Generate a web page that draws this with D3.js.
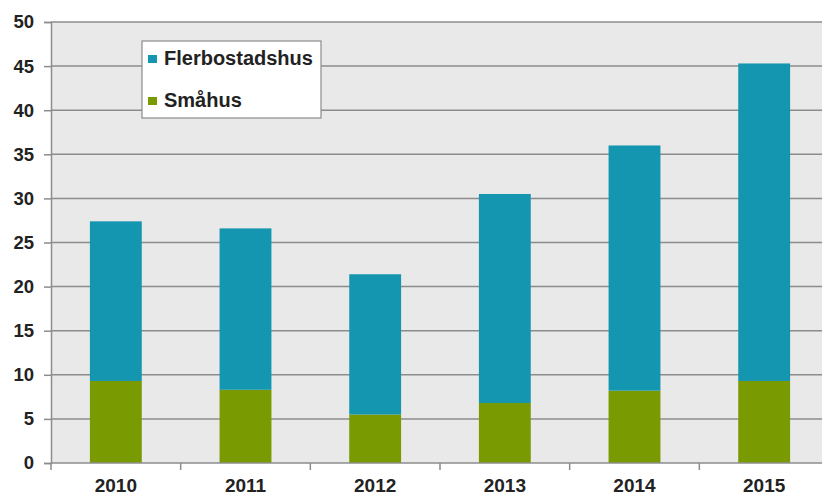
<!DOCTYPE html>
<html>
<head>
<meta charset="utf-8">
<script src="https://cdn.jsdelivr.net/npm/d3@7"></script>
<style>
  html, body { margin: 0; padding: 0; background: #fff; }
  svg { display: block; }
  text { font-family: "Liberation Sans", Arial, sans-serif; font-weight: bold; fill: #222; }
</style>
</head>
<body>
<svg id="chart" width="822" height="495"></svg>
<script>
// Completed dwellings per year, split by building type
const years = ["2010", "2011", "2012", "2013", "2014", "2015"];
const smahus = [9.3, 8.3, 5.5, 6.8, 8.2, 9.3];
const flerbostadshus = [18.1, 18.3, 15.9, 23.7, 27.8, 36.0];
const seriesNames = ["Flerbostadshus", "Småhus"];
const yTicks = [0, 5, 10, 15, 20, 25, 30, 35, 40, 45, 50];

const colors = { "Småhus": "#7a9a01", "Flerbostadshus": "#1596b0" };

const svg = d3.select("#chart");
const plotLeft = 51, plotRight = 829, plotTop = 22, plotBottom = 463;

const x = d3.scaleBand().domain(years).range([plotLeft, plotRight]).paddingInner(0.6).paddingOuter(0.3);
const y = d3.scaleLinear().domain([0, 50]).range([plotBottom, plotTop]);

// plot background
svg.append("rect")
  .attr("x", plotLeft).attr("y", plotTop)
  .attr("width", plotRight - plotLeft).attr("height", plotBottom - plotTop)
  .attr("fill", "#e9e9e9");

// horizontal grid
svg.append("g").selectAll("line").data(yTicks.filter(d => d > 0)).join("line")
  .attr("x1", plotLeft).attr("x2", plotRight)
  .attr("y1", d => y(d)).attr("y2", d => y(d))
  .attr("stroke", "#8c8c8c").attr("stroke-width", 1.5);

// stacked bars
const rows = years.map((yr, i) => ({ year: yr, "Småhus": smahus[i], "Flerbostadshus": flerbostadshus[i] }));
const stack = d3.stack().keys(["Småhus", "Flerbostadshus"])(rows);
svg.append("g").selectAll("g").data(stack).join("g")
  .attr("fill", s => colors[s.key])
  .selectAll("rect").data(s => s).join("rect")
  .attr("x", d => x(d.data.year))
  .attr("width", x.bandwidth())
  .attr("y", d => y(d[1]))
  .attr("height", d => y(d[0]) - y(d[1]));

// y axis
const yAxis = svg.append("g").attr("transform", `translate(${plotLeft},0)`)
  .call(d3.axisLeft(y).tickValues(yTicks).tickSize(7).tickPadding(10));
yAxis.select(".domain").attr("stroke", "#8c8c8c").attr("stroke-width", 1.5);
yAxis.selectAll(".tick line").attr("stroke", "#8c8c8c").attr("stroke-width", 1.5);
yAxis.selectAll(".tick text").attr("font-size", 18.5).attr("fill", "#222")
  .attr("font-family", "Liberation Sans, Arial, sans-serif").attr("font-weight", "bold");

// x axis: boundaries between categories carry the tick marks
const bounds = d3.range(years.length + 1).map(i => plotLeft + i * (plotRight - plotLeft) / years.length);
const xg = svg.append("g");
xg.append("line").attr("x1", plotLeft).attr("x2", plotRight).attr("y1", plotBottom).attr("y2", plotBottom)
  .attr("stroke", "#8c8c8c").attr("stroke-width", 1.5);
xg.selectAll("line.tk").data(bounds).join("line").attr("class", "tk")
  .attr("x1", d => d).attr("x2", d => d).attr("y1", plotBottom).attr("y2", plotBottom + 7)
  .attr("stroke", "#8c8c8c").attr("stroke-width", 1.5);
xg.selectAll("text").data(years).join("text")
  .attr("x", d => x(d) + x.bandwidth() / 2)
  .attr("y", 492)
  .attr("text-anchor", "middle")
  .attr("font-size", 19)
  .text(d => d);

// legend
const lg = svg.append("g");
lg.append("rect").attr("x", 142).attr("y", 41).attr("width", 179).attr("height", 77)
  .attr("fill", "#fff").attr("stroke", "#8c8c8c").attr("stroke-width", 1.2);
seriesNames.forEach((name, i) => {
  const base = 65 + i * 42;
  lg.append("rect").attr("x", 148).attr("y", base - 10).attr("width", 9).attr("height", 8)
    .attr("fill", colors[name]);
  lg.append("text").attr("x", 164).attr("y", base).attr("font-size", 20).text(name);
});
</script>
</body>
</html>
